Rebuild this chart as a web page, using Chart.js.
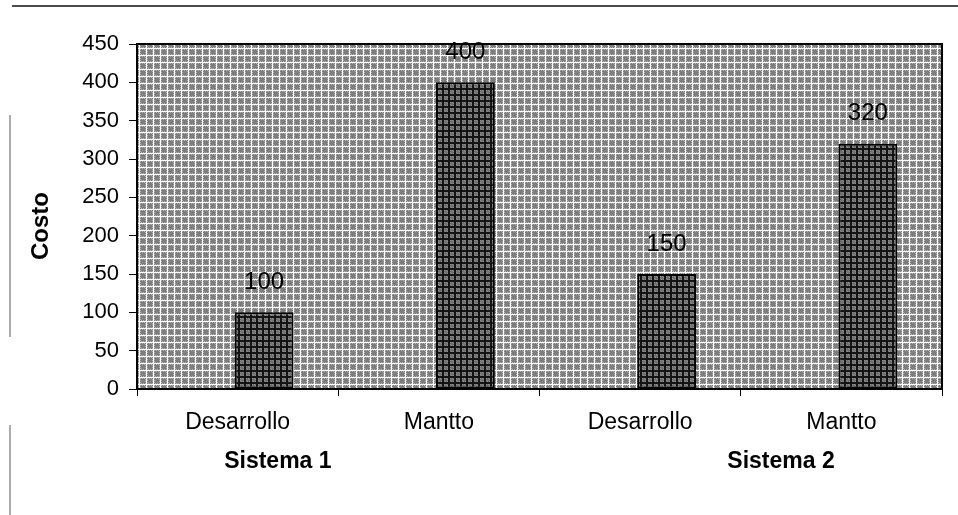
<!DOCTYPE html>
<html>
<head>
<meta charset="utf-8">
<script src="https://cdn.jsdelivr.net/npm/chart.js@4/dist/chart.umd.min.js"></script>
<style>
  html, body { margin: 0; padding: 0; background: #ffffff; }
  #wrap { position: relative; width: 958px; height: 515px; }
  canvas { display: block; }
</style>
</head>
<body>
<div id="wrap"><canvas id="chart" width="958" height="515"></canvas></div>
<script>
// Cost per activity, grouped by system
const categories = ['Desarrollo', 'Mantto', 'Desarrollo', 'Mantto'];
const groups = ['Sistema 1', 'Sistema 2'];
const costValues = [100, 400, 150, 320];
const emptySeries = [null, null, null, null];
const yTicks = [0, 50, 100, 150, 200, 250, 300, 350, 400, 450];
const yTitle = 'Costo';

const FONT = '"Liberation Sans", Arial, sans-serif';

// Small dithered tiles used as fills for the plot area and the bars
function makeTile(size, block, lineColor, blockColor, dotColor) {
  const c = document.createElement('canvas');
  c.width = size; c.height = size;
  const g = c.getContext('2d');
  g.fillStyle = lineColor;
  g.fillRect(0, 0, size, size);
  g.fillStyle = blockColor;
  g.fillRect(0, 0, block, block);
  g.fillStyle = dotColor;
  for (let y = 0; y < block; y++) {
    for (let x = 0; x < block; x++) {
      if ((x + y) % 2 === 0 && (x === 0 || y === 0 || x === block - 1 || y === block - 1)) {
        g.fillRect(x, y, 1, 1);
      }
    }
  }
  return c;
}

const ctx = document.getElementById('chart').getContext('2d');
const bgPattern = ctx.createPattern(makeTile(7, 6, '#ffffff', '#7e7e7e', '#b4b4b4'), 'repeat');
const barPattern = ctx.createPattern(makeTile(6, 4, '#141414', '#6e6e6e', '#8e8e8e'), 'repeat');

// Plot-area fill, frame and decoration lines
const framePlugin = {
  id: 'frame',
  beforeDatasetsDraw(chart) {
    const { ctx, chartArea: a } = chart;
    ctx.save();
    ctx.fillStyle = bgPattern;
    ctx.fillRect(a.left, a.top, a.right - a.left, a.bottom - a.top);
    ctx.strokeStyle = '#000000';
    ctx.lineWidth = 2;
    ctx.strokeRect(a.left, a.top, a.right - a.left, a.bottom - a.top);
    ctx.restore();
  },
  afterDraw(chart) {
    const { ctx } = chart;
    ctx.save();
    // rule across the top of the page
    ctx.strokeStyle = '#111111';
    ctx.lineWidth = 1.5;
    ctx.beginPath();
    ctx.moveTo(12, 6);
    ctx.lineTo(958, 6);
    ctx.stroke();
    // margin rule on the left
    ctx.strokeStyle = '#777777';
    ctx.lineWidth = 1.2;
    ctx.beginPath();
    ctx.moveTo(10, 115); ctx.lineTo(10, 337);
    ctx.moveTo(10, 425); ctx.lineTo(10, 515);
    ctx.stroke();
    ctx.restore();
  }
};

// Value labels above the bars, group labels and the y-axis title
const labelsPlugin = {
  id: 'labels',
  afterDatasetsDraw(chart) {
    const { ctx, scales } = chart;
    const meta = chart.getDatasetMeta(1);
    ctx.save();
    ctx.fillStyle = '#000000';
    ctx.font = '24px ' + FONT;
    ctx.textAlign = 'center';
    ctx.textBaseline = 'middle';
    meta.data.forEach((bar, i) => {
      ctx.fillText(String(costValues[i]), bar.x, bar.y - 30);
    });

    const xs = scales.x;
    const step = xs.getPixelForValue(1) - xs.getPixelForValue(0);
    ctx.font = 'bold 23px ' + FONT;
    ctx.fillText(groups[0], xs.getPixelForValue(0) + 0.2 * step, 462);
    ctx.fillText(groups[1], xs.getPixelForValue(2) + 0.7 * step, 462);

    ctx.font = 'bold 24px ' + FONT;
    ctx.translate(41, 226);
    ctx.rotate(-Math.PI / 2);
    ctx.fillText(yTitle, 0, 0);
    ctx.restore();
  }
};

new Chart(ctx, {
  type: 'bar',
  data: {
    labels: categories,
    datasets: [
      { label: 'Serie 1', data: emptySeries, backgroundColor: barPattern },
      {
        label: 'Serie 2',
        data: costValues,
        backgroundColor: barPattern,
        borderColor: '#000000',
        borderWidth: 2,
        borderSkipped: false
      }
    ]
  },
  options: {
    responsive: false,
    animation: false,
    devicePixelRatio: 1,
    categoryPercentage: 0.527,
    barPercentage: 1.11,
    layout: { padding: { left: 0, right: 16, top: 44, bottom: 0 } },
    plugins: {
      legend: { display: false },
      tooltip: { enabled: false }
    },
    scales: {
      x: {
        grid: {
          display: true,
          offset: true,
          drawOnChartArea: false,
          drawTicks: true,
          tickLength: 7,
          color: '#000000',
          lineWidth: 1
        },
        border: { display: true, color: '#000000', width: 2 },
        ticks: {
          color: '#000000',
          font: { family: FONT, size: 23 },
          padding: 13,
          maxRotation: 0,
          autoSkip: false
        },
        afterFit(scale) { scale.height = 126; }
      },
      y: {
        min: 0,
        max: 450,
        afterBuildTicks(scale) { scale.ticks = yTicks.map(v => ({ value: v })); },
        grid: {
          display: true,
          drawOnChartArea: false,
          drawTicks: true,
          tickLength: 8,
          color: '#000000',
          lineWidth: 1
        },
        border: { display: true, color: '#000000', width: 2 },
        ticks: {
          color: '#000000',
          font: { family: FONT, size: 22 },
          padding: 10
        },
        afterFit(scale) { scale.width = 137; }
      }
    }
  },
  plugins: [framePlugin, labelsPlugin]
});
</script>
</body>
</html>
